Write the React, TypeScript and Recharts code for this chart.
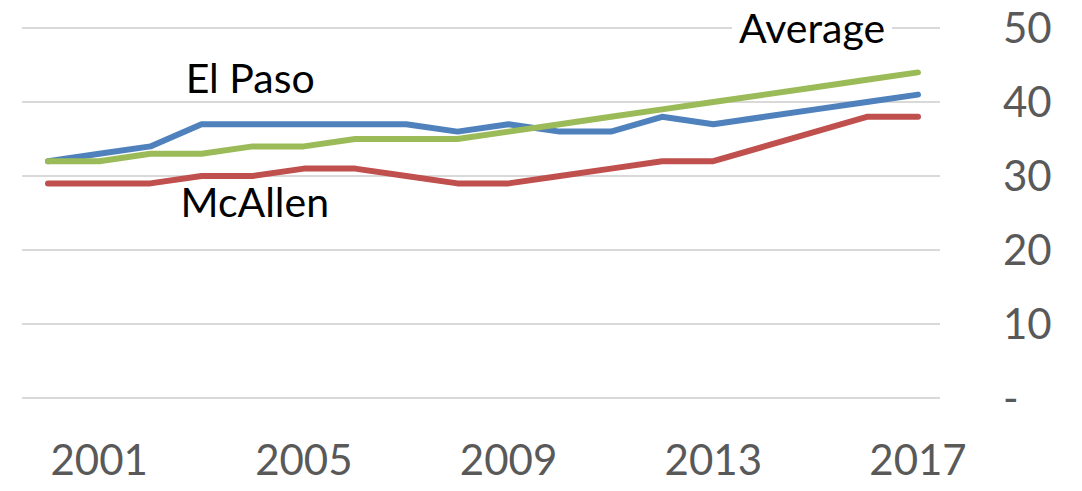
import React from "react";
import { LineChart, Line, XAxis, YAxis, CartesianGrid, ReferenceDot } from "recharts";

const years = [2000, 2001, 2002, 2003, 2004, 2005, 2006, 2007, 2008, 2009, 2010, 2011, 2012, 2013, 2014, 2015, 2016, 2017];
const elPaso = [32, 33, 34, 37, 37, 37, 37, 37, 36, 37, 36, 36, 38, 37, 38, 39, 40, 41];
const mcAllen = [29, 29, 29, 30, 30, 31, 31, 30, 29, 29, 30, 31, 32, 32, 34, 36, 38, 38];
const average = [32, 32, 33, 33, 34, 34, 35, 35, 35, 36, 37, 38, 39, 40, 41, 42, 43, 44];
const xTicks = [2001, 2005, 2009, 2013, 2017];
const yTicks = [0, 10, 20, 30, 40, 50];

const data = years.map((year, i) => ({
  year,
  elPaso: elPaso[i],
  mcAllen: mcAllen[i],
  average: average[i],
}));

const FONT = "Lato, 'Open Sans', sans-serif";

function SeriesLabel({ viewBox, text, boxed }: any) {
  const cx = viewBox.cx ?? viewBox.x;
  const cy = viewBox.cy ?? viewBox.y;
  return (
    <g>
      {boxed && <rect x={cx - 80} y={cy - 4} width={160} height={8} fill="#fff" />}
      <text x={cx} y={cy} dy="0.36em" textAnchor="middle" fontSize={41} fontFamily={FONT} fill="#000">
        {text}
      </text>
    </g>
  );
}

export default function App() {
  return (
    <div style={{ position: "absolute", left: 0, top: 0, background: "#fff" }}>
      <LineChart width={1082} height={491} data={data} margin={{ top: 28, right: 22, bottom: 0, left: 22 }}>
        <CartesianGrid vertical={false} stroke="#d9d9d9" strokeWidth={2} />
        <XAxis
          dataKey="year"
          type="number"
          domain={[2000, 2017]}
          ticks={xTicks}
          padding={{ left: 26, right: 22 }}
          axisLine={false}
          tickLine={false}
          tickSize={0}
          tickMargin={47}
          height={93}
          tick={{ fill: "#595959", fontSize: 42, fontFamily: FONT }}
        />
        <YAxis
          orientation="right"
          domain={[0, 50]}
          ticks={yTicks}
          axisLine={false}
          tickLine={false}
          tickSize={0}
          tickMargin={63}
          width={120}
          tickFormatter={(v: number) => (v === 0 ? "-" : String(v))}
          tick={{ fill: "#595959", fontSize: 42, fontFamily: FONT, textAnchor: "start" }}
        />
        <Line dataKey="elPaso" stroke="#4f81bd" strokeWidth={6} dot={false} strokeLinecap="round" strokeLinejoin="round" isAnimationActive={false} />
        <Line dataKey="mcAllen" stroke="#c0504d" strokeWidth={6} dot={false} strokeLinecap="round" strokeLinejoin="round" isAnimationActive={false} />
        <Line dataKey="average" stroke="#9bbb59" strokeWidth={6} dot={false} strokeLinecap="round" strokeLinejoin="round" isAnimationActive={false} />
        <ReferenceDot x={2003.95} y={43.2} r={0} label={(p: any) => <SeriesLabel {...p} text="El Paso" />} />
        <ReferenceDot x={2004.04} y={26.5} r={0} label={(p: any) => <SeriesLabel {...p} text="McAllen" />} />
        <ReferenceDot x={2014.93} y={50} r={0} label={(p: any) => <SeriesLabel {...p} text="Average" boxed />} />
      </LineChart>
    </div>
  );
}
